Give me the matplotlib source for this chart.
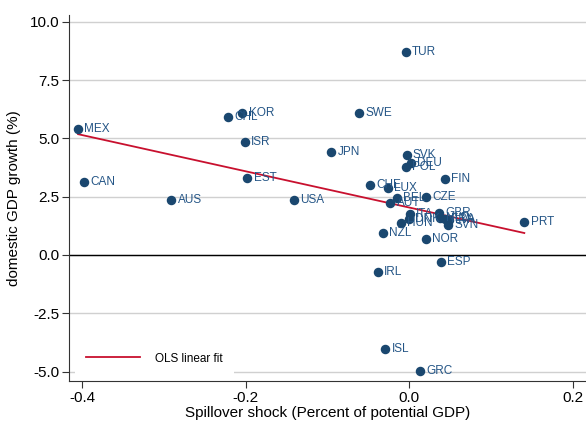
import numpy as np
import matplotlib
matplotlib.use("Agg")
import matplotlib.pyplot as plt

plt.rcParams["font.family"] = ["Liberation Sans", "DejaVu Sans"]

# country codes, spillover shock (x) and domestic GDP growth (y)
countries = ["MEX", "CAN", "AUS", "CHL", "KOR", "ISR", "EST", "USA", "JPN", "SWE",
             "TUR", "SVK", "DEU", "POL", "FIN", "CHE", "LUX", "BEL", "AUT", "CZE",
             "ITA", "DNK", "GBR", "NLD", "FRA", "LVA", "HUN", "SVN", "NZL", "NOR",
             "PRT", "ESP", "IRL", "ISL", "GRC"]
shock = [-0.405, -0.398, -0.291, -0.221, -0.204, -0.201, -0.198, -0.141, -0.095, -0.061,
         -0.004, -0.003, 0.002, -0.004, 0.044, -0.048, -0.026, -0.015, -0.023, 0.021,
         0.001, 0.000, 0.037, 0.038, 0.044, 0.049, -0.010, 0.048, -0.032, 0.021,
         0.141, 0.039, -0.038, -0.029, 0.013]
growth = [5.41, 3.13, 2.36, 5.92, 6.09, 4.85, 3.30, 2.36, 4.42, 6.09,
          8.71, 4.29, 3.96, 3.78, 3.26, 3.00, 2.88, 2.45, 2.23, 2.49,
          1.76, 1.55, 1.80, 1.59, 1.55, 1.50, 1.37, 1.29, 0.94, 0.69,
          1.42, -0.30, -0.73, -4.03, -4.98]

navy = "#1a476f"
red = "#c8102e"

fig = plt.figure(figsize=(5.86, 4.23), dpi=100)
ax = fig.add_axes([0.118, 0.099, 0.882, 0.866])

ax.set_xlim(-0.416, 0.2165)
ax.set_ylim(-5.41, 10.3)
ax.set_yticks([-5, -2.5, 0, 2.5, 5, 7.5, 10])
ax.set_yticklabels(["-5.0", "-2.5", "0.0", "2.5", "5.0", "7.5", "10.0"])
ax.set_xticks([-0.4, -0.2, 0.0, 0.2])
ax.set_xticklabels(["-0.4", "-0.2", "0.0", "0.2"])

ax.grid(axis="y", color="#d0d0d0", linewidth=1)
ax.set_axisbelow(True)
ax.axhline(0, color="black", linewidth=1, zorder=1)

for s in ["top", "right"]:
    ax.spines[s].set_visible(False)
for s in ["left", "bottom"]:
    ax.spines[s].set_color("#333333")
ax.tick_params(labelsize=11, color="#333333", length=5, pad=2)

ax.scatter(shock, growth, s=34, color=navy, zorder=3)
for c, x, y in zip(countries, shock, growth):
    ax.annotate(c, (x, y), xytext=(4.5, 0), textcoords="offset points",
                va="center", ha="left", fontsize=8.5, color="#245586", zorder=4)

# OLS fit over the observed range
b, a = np.polyfit(shock, growth, 1)
xs = np.array([min(shock), max(shock)])
ax.plot(xs, a + b * xs, color=red, linewidth=1.3, zorder=2, label="OLS linear fit")

leg = ax.legend(loc="lower left", frameon=True, fontsize=8.5, handlelength=4.6,
                borderpad=0.9, handletextpad=1.3, bbox_to_anchor=(0.0, 0.0))
leg.get_frame().set_edgecolor("white")
leg.get_frame().set_facecolor("white")
leg.get_frame().set_alpha(1)
leg.get_frame().set_boxstyle("square", pad=0)
leg.get_frame().set_linewidth(0)

ax.set_xlabel("Spillover shock (Percent of potential GDP)", fontsize=11, labelpad=1)
ax.set_ylabel("domestic GDP growth (%)", fontsize=11, labelpad=6)

fig.savefig("out.png", dpi=100)
